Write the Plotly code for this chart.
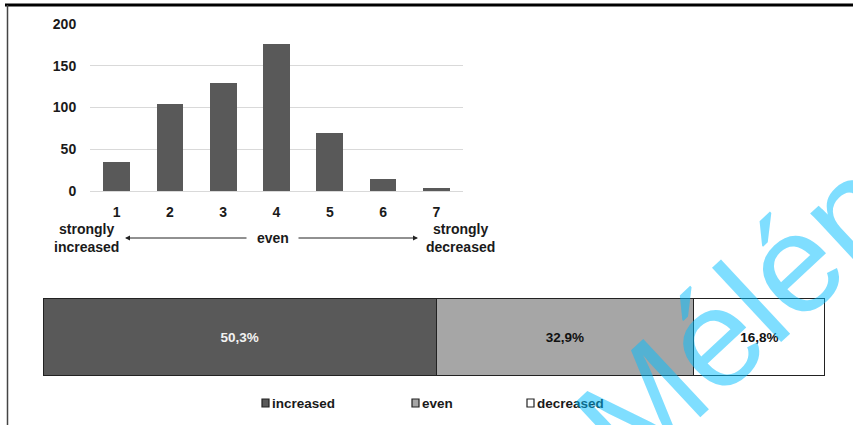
import plotly.graph_objects as go

# ---- data -------------------------------------------------------------
scale_points = ["1", "2", "3", "4", "5", "6", "7"]
responses = [35, 104, 129, 176, 70, 14, 4]
y_ticks = [0, 50, 100, 150, 200]

share_names = ["increased", "even", "decreased"]
share_values = [50.3, 32.9, 16.8]
share_colors = ["#595959", "#a6a6a6", "#ffffff"]
share_text_colors = ["#f2f2f2", "#111111", "#111111"]

W, H = 853, 425
FONT = "Liberation Sans, Arial, sans-serif"


def px(x):
    return x / W


def py(y):
    return 1 - y / H


fig = go.Figure()

# histogram of answers on the 1..7 scale
fig.add_trace(go.Bar(
    x=scale_points, y=responses, width=0.5,
    marker=dict(color="#595959", line=dict(width=0)),
    xaxis="x", yaxis="y", showlegend=False, hoverinfo="x+y",
))

# stacked 100% bar of the three groups
for name, val, col, tcol in zip(share_names, share_values, share_colors, share_text_colors):
    fig.add_trace(go.Bar(
        x=[val], y=[0], orientation="h", width=1, name=name,
        marker=dict(color=col, line=dict(color="#222222", width=1.5)),
        text=[f"{val:.1f}%".replace(".", ",")],
        textposition="inside", insidetextanchor="middle",
        textfont=dict(family=FONT, size=13.5, color=tcol, weight="bold"),
        xaxis="x2", yaxis="y2", showlegend=False,
    ))

tick_font = dict(family=FONT, size=14, color="#1a1a1a", weight="bold")

fig.update_layout(
    width=W, height=H, autosize=False,
    margin=dict(l=0, r=0, t=0, b=0, pad=0, autoexpand=False),
    paper_bgcolor="white", plot_bgcolor="white",
    barmode="stack",
    xaxis=dict(
        domain=[px(90), px(463)], anchor="y", automargin=False,
        showgrid=False, showline=False, zeroline=False,
        ticks="outside", ticklen=8, tickcolor="rgba(0,0,0,0)",
        tickfont=tick_font, fixedrange=True,
    ),
    yaxis=dict(
        domain=[py(191), py(24)], anchor="x", range=[0, 200], automargin=False,
        tickvals=y_ticks, showgrid=True, gridcolor="#d9d9d9", gridwidth=1,
        zeroline=True, zerolinecolor="#d9d9d9", zerolinewidth=1,
        showline=False, ticks="outside", ticklen=10,
        tickcolor="rgba(0,0,0,0)", tickfont=tick_font, fixedrange=True,
    ),
    xaxis2=dict(
        domain=[px(43), px(825)], anchor="y2", range=[0, 100],
        visible=False, fixedrange=True, automargin=False,
    ),
    yaxis2=dict(
        domain=[py(376), py(298)], anchor="x2", range=[-0.5, 0.5],
        visible=False, fixedrange=True, automargin=False,
    ),
    showlegend=False,
)

annotations = []
shapes = []

# end labels of the scale and the "even" arrow row
label_font = dict(family=FONT, size=14, color="#1a1a1a", weight="bold")
annotations += [
    dict(x=px(86), y=py(238), text="strongly<br>increased", showarrow=False,
         xref="paper", yref="paper", xanchor="center", yanchor="middle",
         font=label_font, align="center"),
    dict(x=px(460), y=py(238), text="strongly<br>decreased", showarrow=False,
         xref="paper", yref="paper", xanchor="center", yanchor="middle",
         font=label_font, align="center"),
    dict(x=px(273), y=py(238), text="even", showarrow=False,
         xref="paper", yref="paper", xanchor="center", yanchor="middle",
         font=label_font),
    dict(x=px(125), y=py(238), xref="paper", yref="paper", text="",
         showarrow=True, axref="pixel", ayref="pixel", ax=123, ay=0,
         arrowhead=2, arrowsize=1, arrowwidth=1, arrowcolor="#222222",
         standoff=0, startstandoff=0),
    dict(x=px(418), y=py(238), xref="paper", yref="paper", text="",
         showarrow=True, axref="pixel", ayref="pixel", ax=-121, ay=0,
         arrowhead=2, arrowsize=1, arrowwidth=1, arrowcolor="#222222",
         standoff=0, startstandoff=0),
]

# legend row for the stacked bar
legend_left = [262, 412, 527]
legend_font = dict(family=FONT, size=13.5, color="#1a1a1a", weight="bold")
for name, col, x0 in zip(share_names, share_colors, legend_left):
    shapes.append(dict(
        type="rect", xref="paper", yref="paper",
        x0=px(x0), x1=px(x0 + 7), y0=py(407), y1=py(399),
        fillcolor=col, line=dict(color="#222222", width=1.2),
    ))
    annotations.append(dict(
        x=px(x0 + 8), y=py(403), text=name, showarrow=False,
        xref="paper", yref="paper", xanchor="left", yanchor="middle",
        font=legend_font,
    ))

# page frame lines
shapes += [
    dict(type="line", xref="paper", yref="paper",
         x0=px(5), x1=1, y0=py(5), y1=py(5),
         line=dict(color="#000000", width=3)),
    dict(type="line", xref="paper", yref="paper",
         x0=px(7.5), x1=px(7.5), y0=py(5), y1=0,
         line=dict(color="#444444", width=1.5)),
]

# overlay stamp
annotations.append(dict(
    x=px(766), y=py(289), text="Méléne", showarrow=False,
    xref="paper", yref="paper", xanchor="center", yanchor="middle",
    textangle=-43,
    font=dict(family=FONT, size=140, color="rgba(0,190,255,0.5)"),
))

fig.update_layout(annotations=annotations, shapes=shapes)

fig.write_html("out.html")
